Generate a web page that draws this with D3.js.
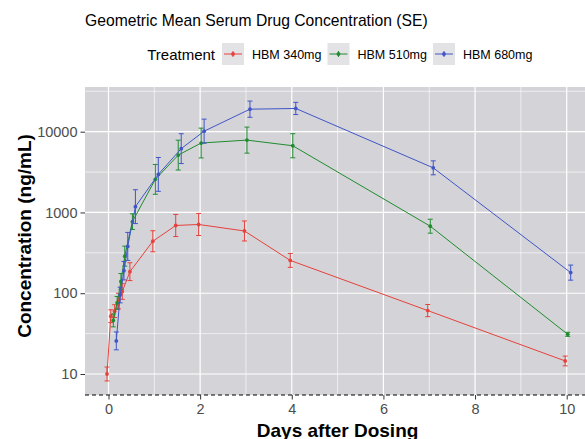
<!DOCTYPE html>
<html>
<head>
<meta charset="utf-8">
<script src="https://cdn.jsdelivr.net/npm/d3@7"></script>
<style>
  body { margin: 0; background: #fff; }
  svg { display: block; font-family: "Liberation Sans", Arial, sans-serif; }
</style>
</head>
<body>
<div id="chart"></div>
<script>
// nominal sampling times (days)
const days = [0, 0.083, 0.167, 0.25, 0.333, 0.5, 1, 1.5, 2, 3, 4, 7, 10];

const treatments = ["HBM 340mg", "HBM 510mg", "HBM 680mg"];

// geometric means (ng/mL)
const mean340 = [10, 52, 60, 80, 105, 185, 440, 690, 710, 590, 255, 61, 14.5];
const mean510 = [null, 46, 76, 140, 288, 770, 2570, 5130, 7240, 7870, 6700, 676, 31];
const mean680 = [null, 25.7, 95, 190, 380, 1180, 2960, 6170, 10150, 19000, 19400, 3570, 180];

// geometric SE factor (bar goes mean/f .. mean*f)
const se340 = [1.22, 1.2, 1.2, 1.25, 1.25, 1.29, 1.35, 1.37, 1.37, 1.33, 1.22, 1.19, 1.15];
const se510 = [null, 1.2, 1.2, 1.25, 1.33, 1.25, 1.53, 1.53, 1.53, 1.45, 1.41, 1.22, 1.06];
const se680 = [null, 1.29, 1.25, 1.3, 1.49, 1.62, 1.62, 1.53, 1.41, 1.26, 1.19, 1.22, 1.24];

const xTicks = [0, 2, 4, 6, 8, 10];
const yTicks = [10, 100, 1000, 10000];

const colors = ["#E6413B", "#1F8B2E", "#4055C8"];
const dodge = [-1.5, 1, 4];

const width = 585, height = 439;
const panel = { left: 85, top: 87, right: 600, bottom: 395 };

const series = [mean340, mean510, mean680].map((m, i) => ({
  name: treatments[i],
  color: colors[i],
  dx: dodge[i],
  points: days
    .map((t, j) => ({ t, v: m[j], f: [se340, se510, se680][i][j] }))
    .filter((d) => d.v != null),
}));

const x = d3.scaleLinear().domain([0, 10]).range([108.5, 566.7]);
const y = d3.scaleLog().domain([10, 10000]).range([374, 131.7]);

const svg = d3
  .select("#chart")
  .append("svg")
  .attr("width", width)
  .attr("height", height);

// panel
svg
  .append("rect")
  .attr("x", panel.left)
  .attr("y", panel.top)
  .attr("width", panel.right - panel.left)
  .attr("height", panel.bottom - panel.top)
  .attr("fill", "#D4D4D8");

const grid = svg.append("g").attr("stroke", "#fff");

// minor grid
grid
  .selectAll("line.xm")
  .data([1, 3, 5, 7, 9])
  .join("line")
  .attr("x1", (d) => x(d))
  .attr("x2", (d) => x(d))
  .attr("y1", panel.top)
  .attr("y2", panel.bottom)
  .attr("stroke-width", 0.6);

grid
  .selectAll("line.ym")
  .data([0.5, 1.5, 2.5, 3.5, 4.5].map((e) => Math.pow(10, e)))
  .join("line")
  .attr("x1", panel.left)
  .attr("x2", panel.right)
  .attr("y1", (d) => y(d))
  .attr("y2", (d) => y(d))
  .attr("stroke-width", 0.6);

// major grid
grid
  .append("g")
  .selectAll("line")
  .data(xTicks)
  .join("line")
  .attr("x1", (d) => x(d))
  .attr("x2", (d) => x(d))
  .attr("y1", panel.top)
  .attr("y2", panel.bottom)
  .attr("stroke-width", 1.2);

grid
  .append("g")
  .selectAll("line")
  .data(yTicks)
  .join("line")
  .attr("x1", panel.left)
  .attr("x2", panel.right)
  .attr("y1", (d) => y(d))
  .attr("y2", (d) => y(d))
  .attr("stroke-width", 1.2);

// series
const line = d3
  .line()
  .x((d) => d.x)
  .y((d) => y(d.v));

const sg = svg
  .append("g")
  .selectAll("g")
  .data(series)
  .join("g")
  .attr("stroke", (d) => d.color)
  .attr("fill", (d) => d.color);

sg.append("path")
  .attr("fill", "none")
  .attr("stroke-width", 1)
  .attr("d", (s) => line(s.points.map((p) => ({ x: x(p.t) + s.dx, v: p.v }))));

sg.each(function (s) {
  const g = d3.select(this);
  const pts = s.points.map((p) => ({ ...p, px: x(p.t) + s.dx }));
  const eb = g
    .selectAll("path.eb")
    .data(pts)
    .join("path")
    .attr("class", "eb")
    .attr("fill", "none")
    .attr("stroke-width", 1)
    .attr("d", (p) => {
      const lo = y(p.v / p.f), hi = y(p.v * p.f), c = 2.5;
      return `M${p.px - c},${hi}H${p.px + c}M${p.px},${hi}V${lo}M${p.px - c},${lo}H${p.px + c}`;
    });
  g.selectAll("circle")
    .data(pts)
    .join("circle")
    .attr("stroke", "none")
    .attr("cx", (p) => p.px)
    .attr("cy", (p) => y(p.v))
    .attr("r", 1.9);
});

// axes
const axisColor = "#333";
svg
  .append("line")
  .attr("x1", panel.left)
  .attr("x2", panel.right)
  .attr("y1", panel.bottom)
  .attr("y2", panel.bottom)
  .attr("stroke", "#000")
  .attr("stroke-width", 1)
  .attr("stroke-dasharray", "4,3");

const xAxis = svg
  .append("g")
  .attr("transform", `translate(0,${panel.bottom})`)
  .call(d3.axisBottom(x).tickValues(xTicks).tickSize(4.5).tickPadding(4).tickFormat(d3.format("d")));
xAxis.select(".domain").remove();
xAxis.selectAll("line").attr("stroke", axisColor);
xAxis
  .selectAll("text")
  .attr("fill", "#4D4D4D")
  .attr("font-size", 14.5)
  .attr("font-family", "Liberation Sans, Arial, sans-serif");

const yAxis = svg
  .append("g")
  .attr("transform", `translate(${panel.left},0)`)
  .call(d3.axisLeft(y).tickValues(yTicks).tickSize(4.5).tickPadding(3).tickFormat(d3.format("d")));
yAxis.select(".domain").remove();
yAxis.selectAll("line").attr("stroke", axisColor);
yAxis
  .selectAll("text")
  .attr("fill", "#4D4D4D")
  .attr("font-size", 14.5)
  .attr("font-family", "Liberation Sans, Arial, sans-serif");

// titles
svg
  .append("text")
  .attr("x", 85)
  .attr("y", 26)
  .attr("font-size", 15.7)
  .attr("fill", "#000")
  .text("Geometric Mean Serum Drug Concentration (SE)");

svg
  .append("text")
  .attr("x", (x(0) + x(10)) / 2 + 0)
  .attr("y", 436.5)
  .attr("text-anchor", "middle")
  .attr("font-size", 19)
  .attr("font-weight", "bold")
  .text("Days after Dosing");

svg
  .append("text")
  .attr("transform", `translate(31,236) rotate(-90)`)
  .attr("text-anchor", "middle")
  .attr("font-size", 19)
  .attr("font-weight", "bold")
  .text("Concentration (ng/mL)");

// legend
const legend = svg.append("g");
legend
  .append("text")
  .attr("x", 215)
  .attr("y", 59.5)
  .attr("text-anchor", "end")
  .attr("font-size", 15)
  .text("Treatment");

let lx = 222;
series.forEach((s) => {
  const k = legend.append("g").attr("transform", `translate(${lx},43)`);
  k.append("rect").attr("width", 22).attr("height", 22).attr("fill", "#E3E3E6");
  k.append("line")
    .attr("x1", 2).attr("x2", 20)
    .attr("y1", 11).attr("y2", 11)
    .attr("stroke", s.color).attr("stroke-width", 1);
  k.append("line")
    .attr("x1", 11).attr("x2", 11)
    .attr("y1", 8).attr("y2", 14)
    .attr("stroke", s.color).attr("stroke-width", 1);
  k.append("circle").attr("cx", 11).attr("cy", 11).attr("r", 1.9).attr("fill", s.color);
  const t = legend
    .append("text")
    .attr("x", lx + 30)
    .attr("y", 59)
    .attr("font-size", 12.5)
    .text(s.name);
  lx += 30 + t.node().getComputedTextLength() + 6;
});
</script>
</body>
</html>
